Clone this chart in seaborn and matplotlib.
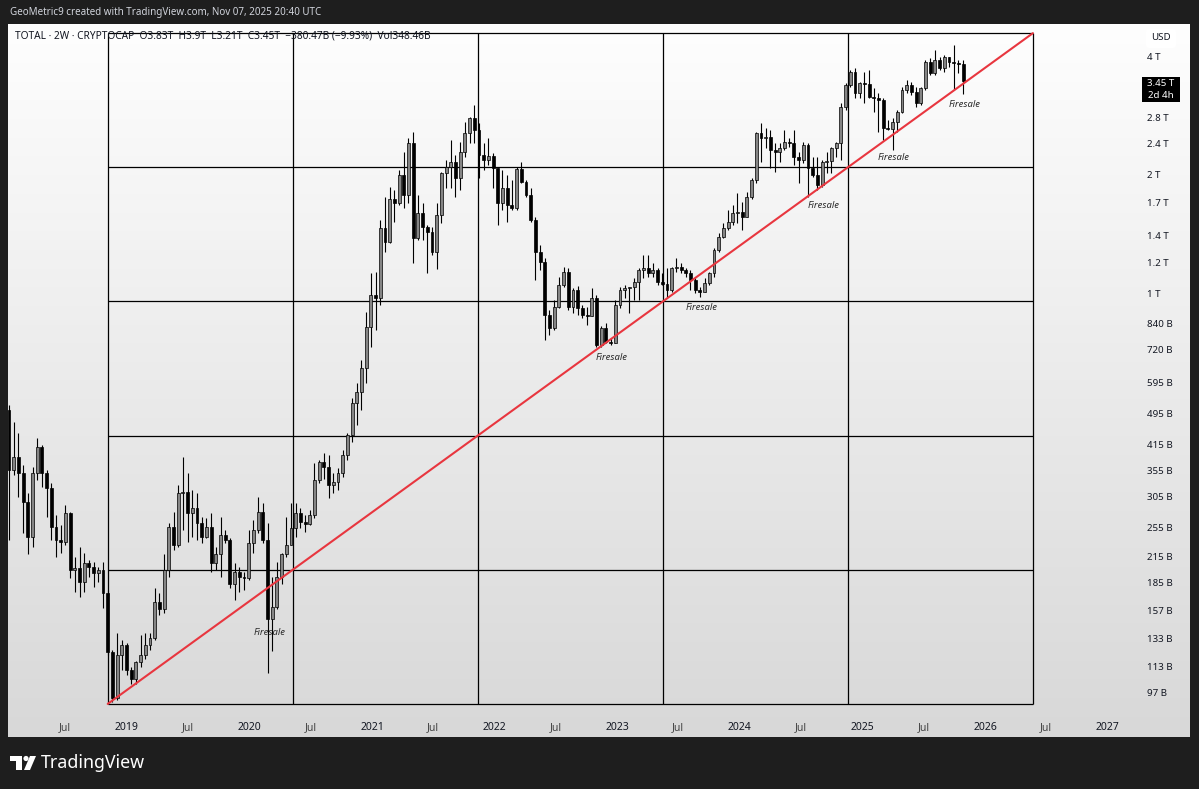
import numpy as np
import pandas as pd
import seaborn as sns
import matplotlib.pyplot as plt
import matplotlib.dates as mdates
from matplotlib.patches import Rectangle, Circle, Polygon, FancyBboxPatch

W, H = 1199, 789

# TOTAL crypto market cap, 2W candles, billions of USD
first_open = 506
closes = [
    357, 385, 351, 296, 241, 351, 408, 351, 321, 255,
    237, 234, 277, 199, 201, 185, 207, 203, 196, 199,
    174, 123, 94.2, 121, 128, 111, 105, 116, 121, 128,
    134, 165, 158, 199, 255, 230, 312, 313, 277, 285,
    261, 241, 255, 207, 218, 244, 237, 183, 197, 191,
    190, 233, 251, 279, 237, 149, 160, 191, 218, 230,
    254, 277, 263, 260, 274, 336, 374, 363, 326, 332,
    351, 389, 437, 528, 562, 647, 822, 991, 974, 1466,
    1350, 1736, 1696, 1996, 1777, 2407, 1382, 1600, 1475, 1431,
    1274, 1581, 2019, 2092, 2154, 1962, 2283, 2552, 2785, 2597,
    2244, 2179, 2231, 2079, 1696, 1852, 1676, 1647, 2067, 1918,
    1777, 1536, 1274, 1201, 882, 817, 924, 1050, 1134, 924,
    1020, 918, 882, 875, 974, 740, 817, 753, 748, 934,
    1020, 1032, 1040, 1068, 1147, 1160, 1127, 1147, 1068, 1055,
    1020, 1160, 1167, 1147, 1127, 1081, 1020, 1008, 1062, 1127,
    1289, 1390, 1466, 1518, 1600, 1610, 1563, 1756, 1940, 2552,
    2478, 2500, 2310, 2283, 2337, 2421, 2407, 2218, 2179, 2379,
    2079, 1996, 1884, 2154, 2165, 2337, 2407, 2970, 3376, 3643,
    3223, 3416, 3400, 3149, 3129, 3093, 2627, 2610, 2721, 2884,
    3280, 3376, 3242, 3040, 3318, 3862, 3622, 3907, 3729, 3977,
    3870, 3850, 3830, 3450,
]
highs = [
    522, 472, 442, 367, 312, 363, 430, 413, 357, 330,
    274, 258, 290, 279, 214, 228, 220, 211, 209, 203,
    209, 177, 125, 138, 132, 130, 113, 117, 136, 138,
    138, 179, 174, 218, 261, 279, 326, 385, 351, 317,
    312, 271, 269, 277, 228, 271, 251, 240, 207, 203,
    197, 251, 266, 304, 294, 261, 191, 209, 220, 271,
    294, 294, 285, 274, 282, 371, 378, 394, 389, 351,
    361, 401, 442, 543, 593, 678, 897, 1127, 1134, 1536,
    1756, 1863, 1829, 2055, 2283, 2478, 2567, 1777, 1696, 1492,
    1475, 1696, 2031, 2179, 2449, 2244, 2421, 2721, 2802, 3004,
    2705, 2407, 2478, 2270, 2079, 2055, 1996, 1940, 2092, 2154,
    1940, 1852, 1563, 1327, 1229, 908, 962, 1100, 1167, 1160,
    1032, 1044, 934, 924, 1032, 991, 827, 841, 771, 962,
    1038, 1050, 1038, 1094, 1160, 1252, 1252, 1194, 1160, 1127,
    1160, 1167, 1229, 1194, 1160, 1147, 1094, 1038, 1094, 1134,
    1304, 1423, 1509, 1628, 1676, 1797, 1706, 1808, 1962, 2567,
    2705, 2627, 2597, 2407, 2407, 2597, 2478, 2597, 2283, 2421,
    2407, 2218, 2218, 2179, 2283, 2351, 2421, 3040, 3416, 3686,
    3729, 3436, 3643, 3686, 3318, 3223, 3129, 2753, 2785, 2918,
    3337, 3476, 3436, 3337, 3337, 3907, 3953, 4142, 3976, 4023,
    3977, 4265, 3907, 3900,
]
lows = [
    237, 347, 304, 247, 218, 228, 336, 323, 271, 237,
    214, 220, 230, 190, 175, 170, 175, 191, 180, 186,
    159, 121, 92.0, 93.1, 111, 108, 102, 102, 113, 118,
    125, 132, 153, 155, 191, 224, 228, 251, 234, 241,
    237, 233, 240, 197, 199, 191, 233, 179, 167, 175,
    177, 188, 220, 247, 233, 109, 124, 158, 183, 215,
    230, 241, 254, 248, 258, 269, 330, 339, 303, 312,
    317, 343, 378, 420, 464, 506, 593, 732, 808, 934,
    1274, 1342, 1518, 1676, 1647, 1696, 1194, 1366, 1366, 1127,
    1252, 1153, 1509, 1852, 1852, 1756, 1829, 2218, 2407, 2407,
    1962, 2055, 2116, 1852, 1492, 1628, 1518, 1628, 1628, 1906,
    1756, 1518, 1081, 1147, 762, 785, 808, 918, 1038, 908,
    892, 882, 867, 831, 892, 732, 732, 749, 740, 749,
    918, 974, 892, 962, 962, 1094, 1100, 1100, 1050, 1050,
    974, 1008, 1134, 1127, 1100, 1020, 1002, 979, 1008, 1050,
    1100, 1274, 1382, 1448, 1492, 1509, 1448, 1563, 1736, 1906,
    2154, 2337, 2079, 2031, 2154, 2310, 2351, 2116, 1906, 2141,
    1756, 1973, 1829, 1863, 2019, 2019, 2218, 2179, 2918, 3337,
    3129, 3129, 3040, 3129, 2884, 2567, 2449, 2597, 2310, 2567,
    2868, 3223, 3186, 2970, 3004, 3280, 3580, 3580, 3686, 3643,
    3751, 3280, 3622, 3210,
]
last_bar = "2025-10-27"

# gann-style box and trend line (corner points)
box_start, box_end = "2018-11-05", "2026-05-23"
box_low, box_high = 91.0, 4575

firesale_dates = ["2020-03-02", "2022-12-16", "2023-09-10", "2024-09-08", "2025-04-04", "2025-11-02"]
firesale_values = [138, 690, 924, 1676, 2218, 3022]

ytick_values = [4000, 2800, 2400, 2000, 1700, 1400, 1200, 1000, 840, 720, 595,
                495, 415, 355, 305, 255, 215, 185, 157, 133, 113, 97]
ytick_labels = ["4 T", "2.8 T", "2.4 T", "2 T", "1.7 T", "1.4 T", "1.2 T", "1 T", "840 B", "720 B", "595 B",
                "495 B", "415 B", "355 B", "305 B", "255 B", "215 B", "185 B", "157 B", "133 B", "113 B", "97 B"]
xtick_dates = ["2018-07-01", "2019-01-01", "2019-07-01", "2020-01-01", "2020-07-01", "2021-01-01",
               "2021-07-01", "2022-01-01", "2022-07-01", "2023-01-01", "2023-07-01", "2024-01-01",
               "2024-07-01", "2025-01-01", "2025-07-01", "2026-01-01", "2026-07-01", "2027-01-01"]
xtick_labels = ["Jul", "2019", "Jul", "2020", "Jul", "2021", "Jul", "2022", "Jul", "2023",
                "Jul", "2024", "Jul", "2025", "Jul", "2026", "Jul", "2027"]

sns.set_theme(style="white")
plt.rcParams["font.family"] = ["Noto Sans", "DejaVu Sans"]

dates = pd.date_range(end=last_bar, periods=len(closes), freq="14D")
c = np.array(closes, dtype=float)
o = np.concatenate([[first_open], c[:-1]])
hi = np.maximum(np.array(highs, dtype=float), np.maximum(o, c))
lo = np.minimum(np.array(lows, dtype=float), np.minimum(o, c))
up = c >= o
xd = mdates.date2num(dates)


def fx(x):
    return x / W


def fy(y):
    return 1 - y / H


fig = plt.figure(figsize=(W / 100, H / 100), dpi=100)
fig.patch.set_facecolor("#1e1e1e")

# light panel with vertical gradient
bg = fig.add_axes([fx(8), fy(737), fx(1190) - fx(8), fy(24) - fy(737)])
grad = np.linspace(0, 1, 256).reshape(-1, 1)
bg.imshow(grad, aspect="auto", cmap=sns.blend_palette(["#fefefe", "#d8d8d8"], as_cmap=True),
          extent=[0, 1, 0, 1], origin="upper")
bg.set_axis_off()

ax = fig.add_axes([fx(8), fy(712), fx(1140) - fx(8), fy(26) - fy(712)])
ax.set_facecolor("none")
ax.set_yscale("log")

# box grid
bx = mdates.date2num(pd.date_range(box_start, box_end, periods=6))
by = np.geomspace(box_low, box_high, 6)
ax.hlines(by, bx[0], bx[-1], color="black", lw=0.9, zorder=1)
ax.vlines(bx, by[0], by[-1], color="black", lw=0.9, zorder=1)

# candles
ax.vlines(xd, lo, hi, color="black", lw=0.8, zorder=2)
bottoms = np.minimum(o, c)
heights = np.maximum(np.abs(c - o), np.maximum(o, c) * 0.005)
ax.bar(xd[up], heights[up], bottom=bottoms[up], width=8.5, color="#858585",
       edgecolor="black", linewidth=0.5, zorder=3)
ax.bar(xd[~up], heights[~up], bottom=bottoms[~up], width=8.5, color="black",
       edgecolor="black", linewidth=0.5, zorder=3)

# red trend line across the box
trend = pd.DataFrame({"x": [bx[0], bx[-1]], "y": [box_low, box_high]})
sns.lineplot(data=trend, x="x", y="y", color="#e8363f", lw=1.5, ax=ax, zorder=4)

for d, v in zip(firesale_dates, firesale_values):
    ax.text(mdates.date2num(pd.Timestamp(d)), v, "Firesale", fontsize=6.8, style="italic",
            color="#2a2a2a", ha="center", va="center", zorder=5)

ax.set_xlim(mdates.date2num(pd.Timestamp("2018-01-12")), mdates.date2num(pd.Timestamp("2027-04-07")))
ax.set_ylim(86.8, 4770)
ax.set_xlabel("")
ax.set_ylabel("")
for s in ax.spines.values():
    s.set_visible(False)

ax.yaxis.tick_right()
ax.set_yticks(ytick_values)
ax.set_yticklabels(ytick_labels)
ax.yaxis.set_minor_locator(plt.NullLocator())
ax.tick_params(axis="y", length=0, pad=5, labelsize=7, labelcolor="#131722")
ax.set_xticks(mdates.date2num(pd.to_datetime(xtick_dates)))
ax.set_xticklabels(xtick_labels)
ax.tick_params(axis="x", length=0, pad=7, labelsize=7.5)
for lab in ax.get_xticklabels():
    if lab.get_text() == "Jul":
        lab.set_color("#444444")
    else:
        lab.set_color("#131722")
        lab.set_fontweight("medium")

# header texts
fig.text(fx(10), fy(12), "GeoMetric9 created with TradingView.com, Nov 07, 2025 20:40 UTC",
         color="#d1d4dc", fontsize=7.1, va="center", ha="left")
fig.text(fx(15), fy(36), "TOTAL · 2W · CRYPTOCAP  O3.83T  H3.9T  L3.21T  C3.45T  \u2212380.47B (\u22129.93%)  Vol348.46B",
         color="#131722", fontsize=7.3, va="center", ha="left")

# USD box and price tag
fig.patches.append(FancyBboxPatch((1146, H - 48), 30, 19, boxstyle="round,pad=0,rounding_size=3",
                                  transform=None, facecolor="white", edgecolor="none", zorder=5))
fig.text(fx(1161), fy(38), "USD", color="#131722", fontsize=7, ha="center", va="center", zorder=6)
fig.patches.append(Rectangle((1142, H - 102), 38, 25, transform=None, facecolor="black",
                             edgecolor="none", zorder=5))
fig.text(fx(1161), fy(83), "3.45 T", color="white", fontsize=7, fontweight="bold",
         ha="center", va="center", zorder=6)
fig.text(fx(1161), fy(95), "2d 4h", color="white", fontsize=7, ha="center", va="center", zorder=6)

# TradingView logo
fig.patches.append(Rectangle((10, H - 761), 12, 5, transform=None, facecolor="white", edgecolor="none"))
fig.patches.append(Rectangle((16, H - 770), 6, 14, transform=None, facecolor="white", edgecolor="none"))
fig.patches.append(Circle((26, H - 758.5), 2.6, transform=None, facecolor="white", edgecolor="none"))
fig.patches.append(Polygon([(30, H - 756), (36, H - 756), (30, H - 770), (24, H - 770)], closed=True,
                           transform=None, facecolor="white", edgecolor="none"))
fig.text(fx(41), fy(763), "TradingView", color="white", fontsize=12.8, fontweight="semibold",
         ha="left", va="center")

fig.savefig("out.png", dpi=100, facecolor=fig.get_facecolor())
